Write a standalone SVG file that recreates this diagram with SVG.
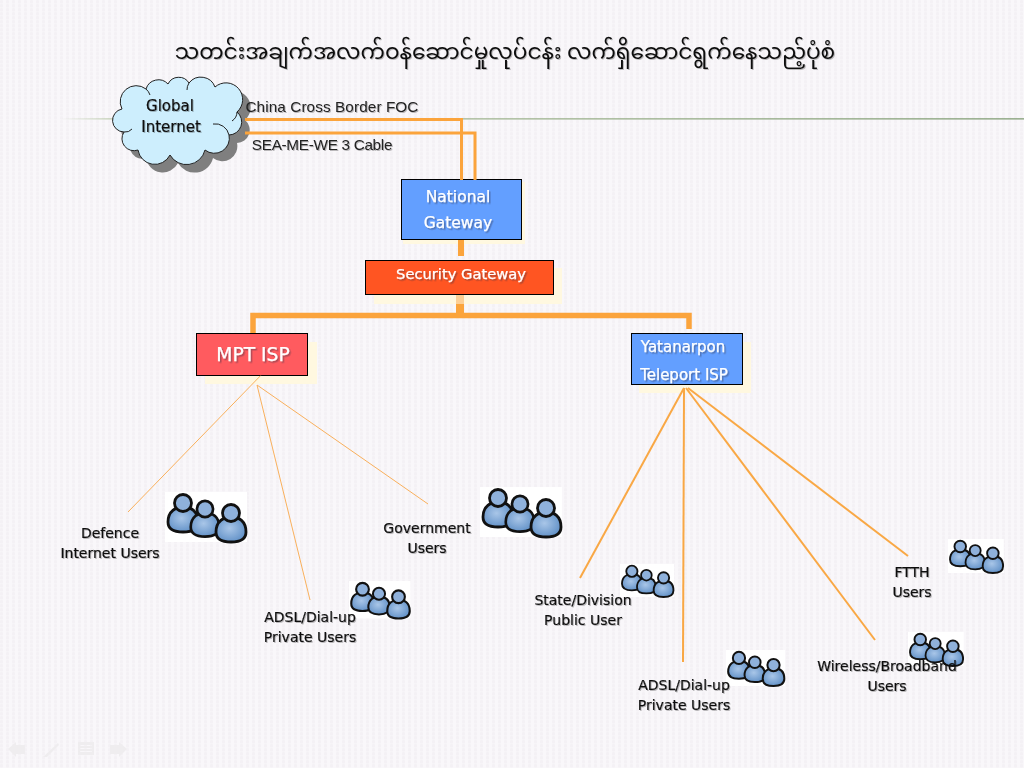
<svg xmlns="http://www.w3.org/2000/svg" xmlns:xlink="http://www.w3.org/1999/xlink" width="1024" height="768" viewBox="0 0 1024 768">
<style>
text{font-family:"DejaVu Sans","Noto Sans",sans-serif;text-anchor:middle}
.lab{font-size:14px;fill:#111;stroke:#111;stroke-width:.2;filter:url(#ds)}
.top{font-size:15.3px;fill:#222;font-family:"Liberation Sans",sans-serif;letter-spacing:-.3px;filter:url(#ds)}
.wh{fill:#fff;stroke:#fff;stroke-width:.25;filter:url(#dw)}
.box{stroke:#000;stroke-width:1}
.glow{fill:#fff8e0}
.thick{fill:none;stroke:#fba43c;stroke-linejoin:miter}
.thin{fill:none;stroke:#f9b05c;stroke-width:1}
.med{fill:none;stroke:#f9a845;stroke-width:2}
.curl{fill:none;stroke:#222;stroke-width:1}
</style>
<defs>
<pattern id="bg" width="6" height="8" patternUnits="userSpaceOnUse">
<rect width="6" height="8" fill="#f9f7fa"/>
<rect x="0" y="0" width="3" height="3.500" rx="1.200" fill="#f4f1f5"/>
<rect x="0" y="4" width="3" height="3.500" rx="1.200" fill="#f4f1f5"/>
</pattern>
<linearGradient id="hl" x1="60" x2="1024" y1="0" y2="0" gradientUnits="userSpaceOnUse">
<stop offset="0" stop-color="#b8c8a8" stop-opacity="0"/>
<stop offset=".06" stop-color="#b8c8a8"/>
<stop offset=".5" stop-color="#9ab08a"/>
<stop offset="1" stop-color="#7d9a70"/>
</linearGradient>
<radialGradient id="body" cx=".45" cy=".45" r=".6">
<stop offset="0" stop-color="#a9c6e8"/>
<stop offset="1" stop-color="#5f8fc6"/>
</radialGradient>
<filter id="ds" x="-10%" y="-20%" width="120%" height="150%"><feDropShadow dx="1" dy="1" stdDeviation=".6" flood-color="#000" flood-opacity=".25"/></filter>
<filter id="dw" x="-10%" y="-20%" width="120%" height="150%"><feDropShadow dx="1.500" dy="1.500" stdDeviation=".3" flood-color="#334" flood-opacity=".4"/></filter>
<g id="person">
<path d="M-15 19C-15 8-7 4 0 4C8 4 15 8 15 19C15 27 8 29 0 29C-8 29-15 27-15 19Z" fill="url(#body)" stroke="#111" stroke-width="2.800" stroke-linejoin="round"/>
<circle cx="0" cy="0" r="8.500" fill="#8fb1db" stroke="#111" stroke-width="2.800"/>
</g>
<g id="users">
<rect x="0" y="0" width="82" height="50" fill="#fff"/>
<use xlink:href="#person" href="#person" transform="translate(18,11)"/>
<use xlink:href="#person" href="#person" transform="translate(40,17) scale(.95)"/>
<use xlink:href="#person" href="#person" transform="translate(66,21)"/>
</g>
<path id="cloud" d="M124 132A11.600 11.600 0 0 1 122 109A16 16 0 0 1 146 89A13 13 0 0 1 168 84A12 12 0 0 1 189 83A15 15 0 0 1 215 87A16.600 16.600 0 0 1 237 112A13 13 0 0 1 229 135A15 15 0 0 1 205 150A19 19 0 0 1 170 155A17 17 0 0 1 138 150A12 12 0 0 1 124 132Z"/>
</defs>
<rect id="background" width="1024" height="768" fill="url(#bg)"/>
<text id="title" x="505" y="59" style="font-family:'Noto Sans Myanmar','Padauk','Myanmar3','Noto Sans','DejaVu Sans',sans-serif;font-size:21.700px;fill:#111" filter="url(#ds)">သတင်းအချက်အလက်ဝန်ဆောင်မှုလုပ်ငန်း လက်ရှိဆောင်ရွက်နေသည့်ပုံစံ</text>
<line id="rule" x1="60" y1="118.800" x2="1024" y2="118.800" stroke="url(#hl)" stroke-width="1.300"/>
<g id="nav" fill="#efedef">
<path d="M8 749L16 742V745H25V754H16V757Z"/>
<path d="M43 757L58 743L59 745L47 757Z"/>
<path d="M78 742H94V755H78ZM80 745V746H92V745ZM80 748V749H92V748ZM80 751V752H92V751Z" fill-rule="evenodd"/>
<path d="M127 749L119 742V745H110V754H119V757Z"/>
</g>
<g id="node-cloud">
<use xlink:href="#cloud" href="#cloud" transform="translate(8,8)" fill="#7f7f7f"/>
<use xlink:href="#cloud" href="#cloud" fill="#cdeefd" stroke="#222" stroke-width="1"/>
<path class="curl" d="M213 124A14 14 0 0 1 229 135M237 112A11 11 0 0 1 232 121M124 132A9 9 0 0 0 132 129M146 89A13 13 0 0 1 150 95M189 83A12 12 0 0 0 187 90"/>
<text x="170" y="111" style="font-size:15px;fill:#111;stroke:#111;stroke-width:.2" filter="url(#ds)">Global</text>
<text x="171" y="132" style="font-size:15px;fill:#111;stroke:#111;stroke-width:.2" filter="url(#ds)">Internet</text>
</g>
<g id="label-china"><text class="top" x="332" y="112" style="letter-spacing:.1px">China Cross Border FOC</text></g>
<g id="label-sea"><text class="top" x="322" y="150">SEA-ME-WE 3 Cable</text></g>
<g id="node-national">
<rect class="glow" x="403" y="182" width="122" height="62"/>
<rect class="box" x="401.500" y="179.500" width="120" height="60" fill="#639fff"/>
<text class="wh" x="458" y="202" font-size="15.500">National</text>
<text class="wh" x="458" y="228" font-size="15.500">Gateway</text>
</g>
<g id="node-security">
<rect class="glow" x="374" y="268" width="188" height="36"/>
<rect class="box" x="365.500" y="260.500" width="188" height="34" fill="#ff5522"/>
<text class="wh" x="461" y="279" font-size="14.700">Security Gateway</text>
</g>
<g id="node-mpt">
<rect class="glow" x="205" y="342" width="112" height="42"/>
<rect class="box" x="196.500" y="333.500" width="111" height="42" fill="#ff5b5f"/>
<text class="wh" x="253" y="361" font-size="18.700">MPT ISP</text>
</g>
<g id="node-yatanarpon">
<rect class="glow" x="639" y="342" width="112" height="51"/>
<rect class="box" x="631.500" y="333.500" width="111" height="51" fill="#639fff"/>
<text class="wh" x="683" y="352" font-size="15">Yatanarpon</text>
<text class="wh" x="684" y="380" font-size="15">Teleport ISP</text>
</g>
<g id="users-defence">
<use xlink:href="#users" href="#users" transform="translate(165,492)"/>
<text class="lab" x="110" y="538">Defence</text>
<text class="lab" x="110" y="558">Internet Users</text>
</g>
<g id="users-adsl1">
<use xlink:href="#users" href="#users" transform="translate(349,581) scale(.75)"/>
<text class="lab" x="310" y="622">ADSL/Dial-up</text>
<text class="lab" x="310" y="642">Private Users</text>
</g>
<g id="users-government">
<use xlink:href="#users" href="#users" transform="translate(480,487)"/>
<text class="lab" x="427" y="533">Government</text>
<text class="lab" x="427" y="553">Users</text>
</g>
<g id="users-state">
<use xlink:href="#users" href="#users" transform="translate(620,564) scale(.66)"/>
<text class="lab" x="583" y="605">State/Division</text>
<text class="lab" x="583" y="625">Public User</text>
</g>
<g id="users-adsl2">
<use xlink:href="#users" href="#users" transform="translate(726,650) scale(.72)"/>
<text class="lab" x="684" y="690">ADSL/Dial-up</text>
<text class="lab" x="684" y="710">Private Users</text>
</g>
<g id="users-wireless">
<use xlink:href="#users" href="#users" transform="translate(908,632) scale(.68)"/>
<text class="lab" x="887" y="671">Wireless/Broadband</text>
<text class="lab" x="887" y="691">Users</text>
</g>
<g id="users-ftth">
<use xlink:href="#users" href="#users" transform="translate(948,539) scale(.68)"/>
<text class="lab" x="912" y="577">FTTH</text>
<text class="lab" x="912" y="597">Users</text>
</g>
<g id="connectors">
<path class="thick" stroke-width="3" d="M245 119.500H461.500V180"/>
<path class="thick" stroke-width="3" d="M245 133H475V180"/>
<path class="thick" stroke-width="6" d="M461 240V256"/>
<path class="thick" stroke-width="8" d="M460 304V318"/>
<path class="thick" stroke-width="8" style="stroke:#fdcf95" d="M460 295V304"/>
<path class="thick" stroke-width="5.500" d="M253 333V315.500H689V329"/>
<path class="thin" d="M260.500 375.700L128 512"/>
<path class="thin" d="M257 385L310 600"/>
<path class="thin" d="M257 385L428 504"/>
<path class="med" d="M684 388L580 578"/>
<path class="med" d="M684 388L683 662"/>
<path class="med" d="M686 388L875 640"/>
<path class="med" d="M688 388L908 556"/>
</g>
</svg>
